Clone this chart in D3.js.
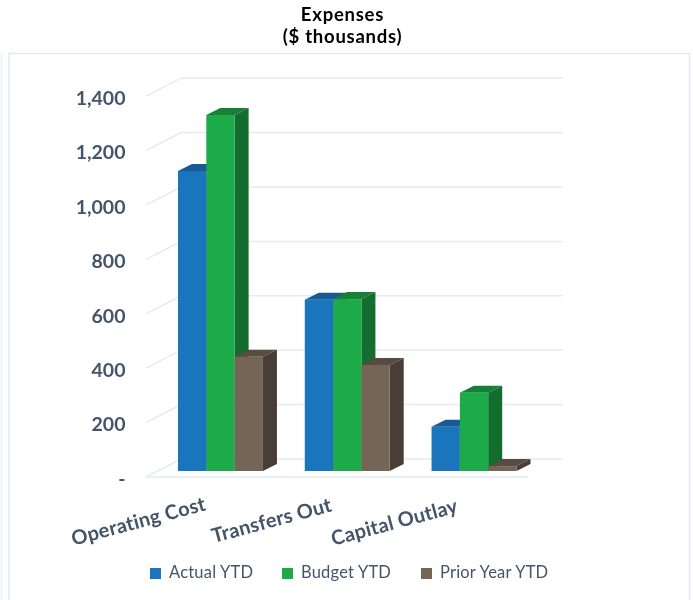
<!DOCTYPE html>
<html><head><meta charset="utf-8">
<script src="https://cdnjs.cloudflare.com/ajax/libs/d3/7.8.5/d3.min.js"></script>
<style>html,body{margin:0;padding:0;background:#fff}svg{display:block;filter:blur(0.35px)}text{font-family:Lato,"Open Sans",sans-serif}</style>
</head><body><svg id="c" width="693" height="600"></svg>
<script>
const categories = ["Operating Cost","Transfers Out","Capital Outlay"];
const seriesNames = ["Actual YTD","Budget YTD","Prior Year YTD"];
const actualYTD = [1103, 630, 163];
const budgetYTD = [1309, 632, 288];
const priorYearYTD = [420, 390, 18];
const tickValues = [0,200,400,600,800,1000,1200,1400];
const seriesValues = [actualYTD, budgetYTD, priorYearYTD];
const colors = [
 {front:"#1b75bc",top:"#185a94",side:"#14507f"},
 {front:"#1dab4a",top:"#178038",side:"#126d2e"},
 {front:"#746556",top:"#584c41",side:"#493e35"}];
const svg = d3.select("#c");
const ink = "#44546a", grid = "#e6eaf1";

// frame
svg.append("path").attr("fill","none").attr("stroke","#e3e8f1").attr("stroke-width",1.5)
  .attr("d","M9,600V53.5H689.5V600");
svg.append("path").attr("fill","none").attr("stroke","#e9edf5").attr("stroke-width",1.5)
  .attr("d","M1.5,53.5V600");

// title
["Expenses","($ thousands)"].forEach((t,i)=>{
  svg.append("text").attr("x",342.5).attr("y",21+i*22).attr("text-anchor","middle")
    .attr("font-size",18.5).attr("letter-spacing",0.75).attr("font-weight",700).attr("fill","#000").text(t);
});

// scales
const y = d3.scaleLinear().domain([0,1400]).range([471,90.2]);
const x0 = d3.scaleBand().domain(categories).range([178,516.5]).paddingInner(0.33).paddingOuter(0);
const x1 = d3.scaleBand().domain(seriesNames).range([0,x0.bandwidth()]);
const wall = {dx:35,dy:-18}, wallFront = {dx:-32,dy:6}, depth = {dx:14,dy:-7};

// gridlines
const gridG = svg.append("g").attr("fill","none").attr("stroke",grid).attr("stroke-width",1.5);
tickValues.forEach(t=>{
  const fy = y(t)+wallFront.dy, fx = 178+wallFront.dx;
  gridG.append("path").attr("d",`M${fx},${fy}L${fx+wall.dx},${fy+wall.dy}H563`);
});
gridG.append("path").attr("d",`M${178+wallFront.dx},${y(0)+wallFront.dy}H528`);

// axis labels
const axis = d3.axisLeft(y).tickValues(tickValues).tickSize(0).tickPadding(0)
  .tickFormat(d=>d===0?"-":d3.format(",")(d));
const ag = svg.append("g").attr("transform","translate(125.5,8)").call(axis);
ag.select(".domain").remove();
ag.selectAll("text").attr("font-size",19.5).attr("font-weight",700).attr("fill",ink)
  .style("font-family","Lato,'Open Sans',sans-serif");

// bars
categories.forEach((c,i)=>{
  seriesNames.forEach((s,j)=>{
    const v = seriesValues[j][i], col = colors[j];
    const l = x0(c)+x1(s), r = l+x1.bandwidth(), t = y(v), b = y(0);
    const g = svg.append("g");
    g.append("path").attr("fill",col.top)
      .attr("d",`M${l},${t}L${l+depth.dx},${t+depth.dy}H${r+depth.dx}L${r},${t}Z`);
    g.append("path").attr("fill",col.side)
      .attr("d",`M${r},${t}L${r+depth.dx},${t+depth.dy}V${b+depth.dy}L${r},${b}Z`);
    g.append("rect").attr("x",l).attr("y",t).attr("width",x1.bandwidth()).attr("height",b-t).attr("fill",col.front);
  });
});

// category labels
const labelEnds = [[207,510],[333,511],[459,512]];
categories.forEach((c,i)=>{
  svg.append("text").attr("transform",`translate(${labelEnds[i][0]},${labelEnds[i][1]}) rotate(-15)`)
    .attr("text-anchor","end").attr("font-size",20).attr("letter-spacing",0.2).attr("font-weight",700).attr("fill",ink).text(c);
});

// legend
const legendX = [150,282,421];
seriesNames.forEach((s,j)=>{
  svg.append("rect").attr("x",legendX[j]).attr("y",568).attr("width",11).attr("height",11).attr("fill",colors[j].front);
  svg.append("text").attr("x",legendX[j]+19).attr("y",578).attr("font-size",16.5).attr("letter-spacing",0.2).attr("fill",ink).text(s);
});
</script></body></html>
